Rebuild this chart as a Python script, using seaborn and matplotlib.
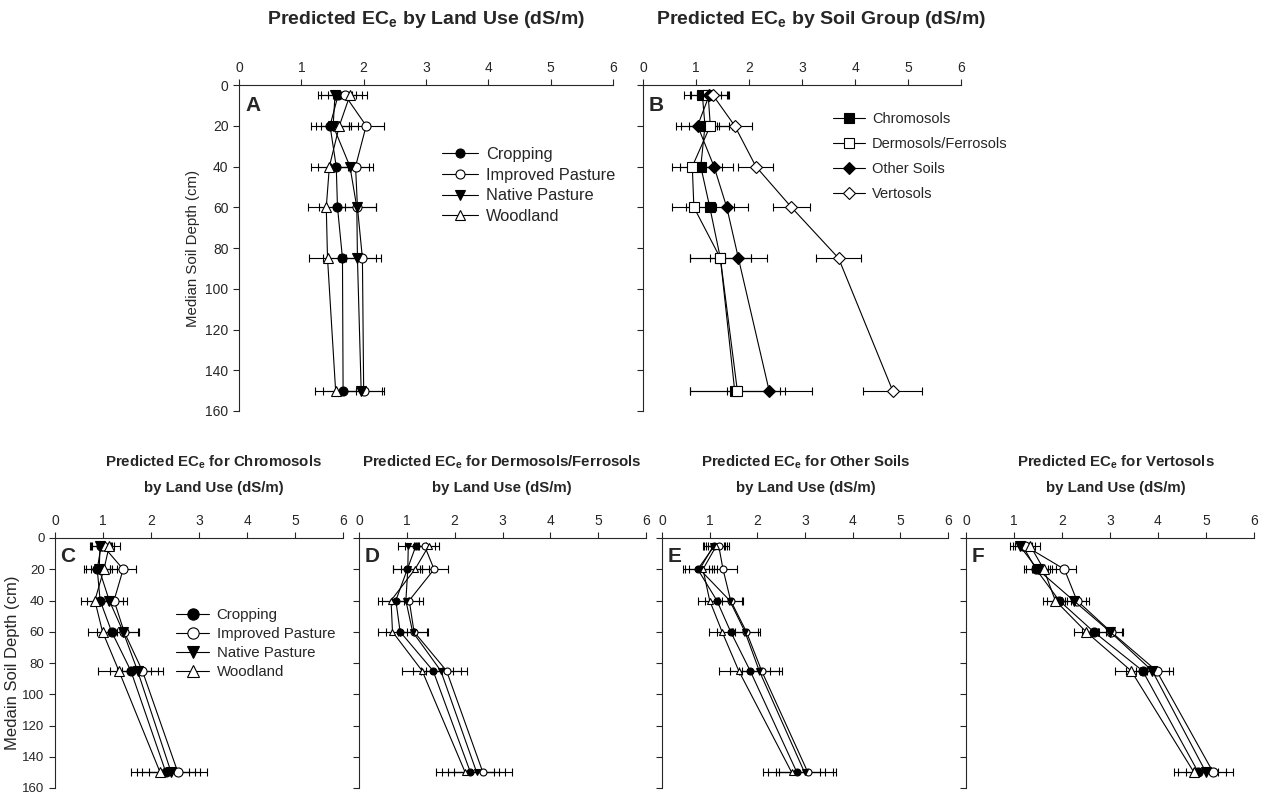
import numpy as np
import matplotlib
matplotlib.use("Agg")
import matplotlib.pyplot as plt
import seaborn as sns

sns.set_style("ticks")
plt.rcParams['font.family'] = ['Liberation Sans', 'DejaVu Sans']
plt.rcParams['mathtext.fontset'] = 'custom'
plt.rcParams['mathtext.rm'] = 'Liberation Sans'
plt.rcParams['mathtext.bf'] = 'Liberation Sans:bold'

# ---- data ----
DEPTH = [5, 20, 40, 60, 85, 150]
LAND_USE = ['Cropping', 'Improved Pasture', 'Native Pasture', 'Woodland']
SOIL_GROUP = ['Chromosols', 'Dermosols/Ferrosols', 'Other Soils', 'Vertosols']

# A: by land use
a_crop = [1.59, 1.46, 1.56, 1.58, 1.66, 1.67]
a_impr = [1.70, 2.04, 1.87, 1.90, 1.98, 2.00]
a_nat = [1.54, 1.51, 1.78, 1.89, 1.90, 1.96]
a_wood = [1.78, 1.61, 1.45, 1.40, 1.42, 1.55]
a_crop_err = [0.28, 0.30, 0.30, 0.30, 0.32, 0.33]
a_impr_err = [0.28, 0.28, 0.28, 0.29, 0.30, 0.33]
a_nat_err = [0.27, 0.28, 0.30, 0.30, 0.30, 0.33]
a_wood_err = [0.28, 0.30, 0.30, 0.30, 0.30, 0.33]

# B: by soil group
b_chrom = [1.12, 1.17, 1.09, 1.26, 1.46, 1.73]
b_derm = [1.23, 1.27, 0.93, 0.96, 1.46, 1.78]
b_other = [1.25, 1.03, 1.34, 1.58, 1.80, 2.38]
b_vert = [1.32, 1.73, 2.13, 2.80, 3.69, 4.71]
b_chrom_err = [0.35, 0.45, 0.40, 0.45, 0.58, 0.85]
b_derm_err = [0.35, 0.40, 0.38, 0.42, 0.58, 0.90]
b_other_err = [0.35, 0.40, 0.35, 0.40, 0.54, 0.80]
b_vert_err = [0.30, 0.33, 0.33, 0.35, 0.43, 0.56]

# C: Chromosols by land use
c_crop = [0.96, 0.88, 0.94, 1.18, 1.58, 2.31]
c_impr = [1.00, 1.42, 1.23, 1.44, 1.82, 2.56]
c_nat = [0.94, 0.92, 1.13, 1.42, 1.72, 2.42]
c_wood = [1.13, 1.02, 0.83, 0.99, 1.33, 2.19]
c_err = [0.22, 0.27, 0.28, 0.30, 0.43, 0.60]

# D: Dermosols/Ferrosols by land use
d_crop = [1.19, 1.01, 0.77, 0.86, 1.55, 2.33]
d_impr = [1.37, 1.57, 1.05, 1.15, 1.83, 2.59]
d_nat = [1.03, 1.02, 0.98, 1.12, 1.71, 2.46]
d_wood = [1.46, 1.17, 0.67, 0.70, 1.32, 2.22]
d_err = [0.22, 0.30, 0.28, 0.30, 0.42, 0.60]

# E: Other Soils by land use
e_crop = [1.10, 0.75, 1.15, 1.44, 1.85, 2.83]
e_impr = [1.19, 1.28, 1.44, 1.77, 2.09, 3.06]
e_nat = [1.08, 0.79, 1.42, 1.74, 2.04, 2.99]
e_wood = [1.14, 0.86, 1.00, 1.26, 1.61, 2.72]
e_err = [0.22, 0.30, 0.25, 0.28, 0.42, 0.60]

# F: Vertosols by land use
f_crop = [1.18, 1.46, 1.94, 2.66, 3.68, 4.84]
f_impr = [1.23, 2.05, 2.31, 3.02, 3.97, 5.15]
f_nat = [1.12, 1.49, 2.24, 3.00, 3.88, 5.00]
f_wood = [1.34, 1.62, 1.86, 2.50, 3.44, 4.75]
f_err = [0.20, 0.25, 0.25, 0.25, 0.34, 0.42]

LAND_STYLE = [('o', 'black'), ('o', 'white'), ('v', 'black'), ('^', 'white')]
SOIL_STYLE = [('s', 'black'), ('s', 'white'), ('D', 'black'), ('D', 'white')]


def draw_panel(ax, series, errs, labels, styles, msize=6.5):
    handles = []
    for vals, err, lab, (mk, fc) in zip(series, errs, labels, styles):
        sns.lineplot(x=np.array(vals), y=np.array(DEPTH, dtype=float), orient='y', sort=False,
                     ax=ax, color='black', lw=0.8, marker=mk, markersize=msize,
                     markerfacecolor=fc, markeredgecolor='black', markeredgewidth=0.8,
                     label=lab, legend=False, zorder=3)
        handles.append(ax.lines[-1])
        ax.errorbar(vals, DEPTH, xerr=err, fmt='none', ecolor='black',
                    elinewidth=0.8, capsize=3, capthick=0.8, zorder=2)
    ax.set_xlim(0, 6)
    ax.set_ylim(160, 0)
    ax.set_xticks(range(7))
    ax.set_yticks(range(0, 161, 20))
    ax.xaxis.tick_top()
    ax.spines['right'].set_visible(False)
    ax.spines['bottom'].set_visible(False)
    ax.tick_params(axis='both', direction='out', length=4, width=0.8, labelsize=10)
    ax.set_xlabel('')
    ax.set_ylabel('')
    return handles


fig = plt.figure(figsize=(12.63, 7.98), dpi=100)
W, H = 1263, 798


def rect(x0, x1, y0, y1):
    return [x0 / W, 1 - y1 / H, (x1 - x0) / W, (y1 - y0) / H]


axA = fig.add_axes(rect(239, 613, 85, 411))
axB = fig.add_axes(rect(643, 961, 85, 411))
axC = fig.add_axes(rect(55, 343, 538, 788))
axD = fig.add_axes(rect(359, 646, 538, 788))
axE = fig.add_axes(rect(662, 948, 538, 788))
axF = fig.add_axes(rect(966, 1254, 538, 788))

hA = draw_panel(axA, [a_crop, a_impr, a_nat, a_wood],
                [a_crop_err, a_impr_err, a_nat_err, a_wood_err], LAND_USE, LAND_STYLE)
hB = draw_panel(axB, [b_chrom, b_derm, b_other, b_vert],
                [b_chrom_err, b_derm_err, b_other_err, b_vert_err], SOIL_GROUP, SOIL_STYLE)
hC = draw_panel(axC, [c_crop, c_impr, c_nat, c_wood], [c_err] * 4, LAND_USE, LAND_STYLE)
draw_panel(axD, [d_crop, d_impr, d_nat, d_wood], [d_err] * 4, LAND_USE, LAND_STYLE, msize=5)
draw_panel(axE, [e_crop, e_impr, e_nat, e_wood], [e_err] * 4, LAND_USE, LAND_STYLE, msize=5)
draw_panel(axF, [f_crop, f_impr, f_nat, f_wood], [f_err] * 4, LAND_USE, LAND_STYLE)

for ax in [axB, axD, axE, axF]:
    ax.tick_params(axis='y', labelleft=False)

axA.set_ylabel('Median Soil Depth (cm)', fontsize=10.8)
axC.set_ylabel('Medain Soil Depth (cm)', fontsize=12, labelpad=2)
axC.tick_params(axis='y', labelsize=9.5)

legend_kw = dict(frameon=False, handlelength=2.2, handletextpad=0.5, borderaxespad=0)
axA.legend(hA, LAND_USE, loc='upper left', bbox_to_anchor=(0.525, 0.83), fontsize=11.8,
           labelspacing=0.35, **legend_kw)
axB.legend(hB, SOIL_GROUP, loc='upper left', bbox_to_anchor=(0.578, 0.935), fontsize=10.5,
           labelspacing=0.75, **legend_kw)
axC.legend(hC, LAND_USE, loc='upper left', bbox_to_anchor=(0.40, 0.745), fontsize=10.8,
           labelspacing=0.35, markerscale=1.25, **legend_kw)

for ax, letter in zip([axA, axB, axC, axD, axE, axF], 'ABCDEF'):
    ax.text(0.018, 0.965, letter, transform=ax.transAxes, ha='left', va='top',
            fontsize=15, fontweight='bold')

fig.text(426 / W, 1 - 20 / H, r'Predicted EC$_\mathbf{e}$ by Land Use (dS/m)',
         ha='center', va='center', fontsize=14, fontweight='bold')
fig.text(821 / W, 1 - 20 / H, r'Predicted EC$_\mathbf{e}$ by Soil Group (dS/m)',
         ha='center', va='center', fontsize=14, fontweight='bold')

bottom_titles = [(214, 'Chromosols'), (502, 'Dermosols/Ferrosols'),
                 (806, 'Other Soils'), (1116, 'Vertosols')]
for xc, name in bottom_titles:
    fig.text(xc / W, 1 - 462 / H, r'Predicted EC$_\mathbf{e}$ for ' + name,
             ha='center', va='center', fontsize=10.8, fontweight='bold')
    fig.text(xc / W, 1 - 488 / H, 'by Land Use (dS/m)',
             ha='center', va='center', fontsize=10.8, fontweight='bold')

fig.savefig('out.png', dpi=100)
